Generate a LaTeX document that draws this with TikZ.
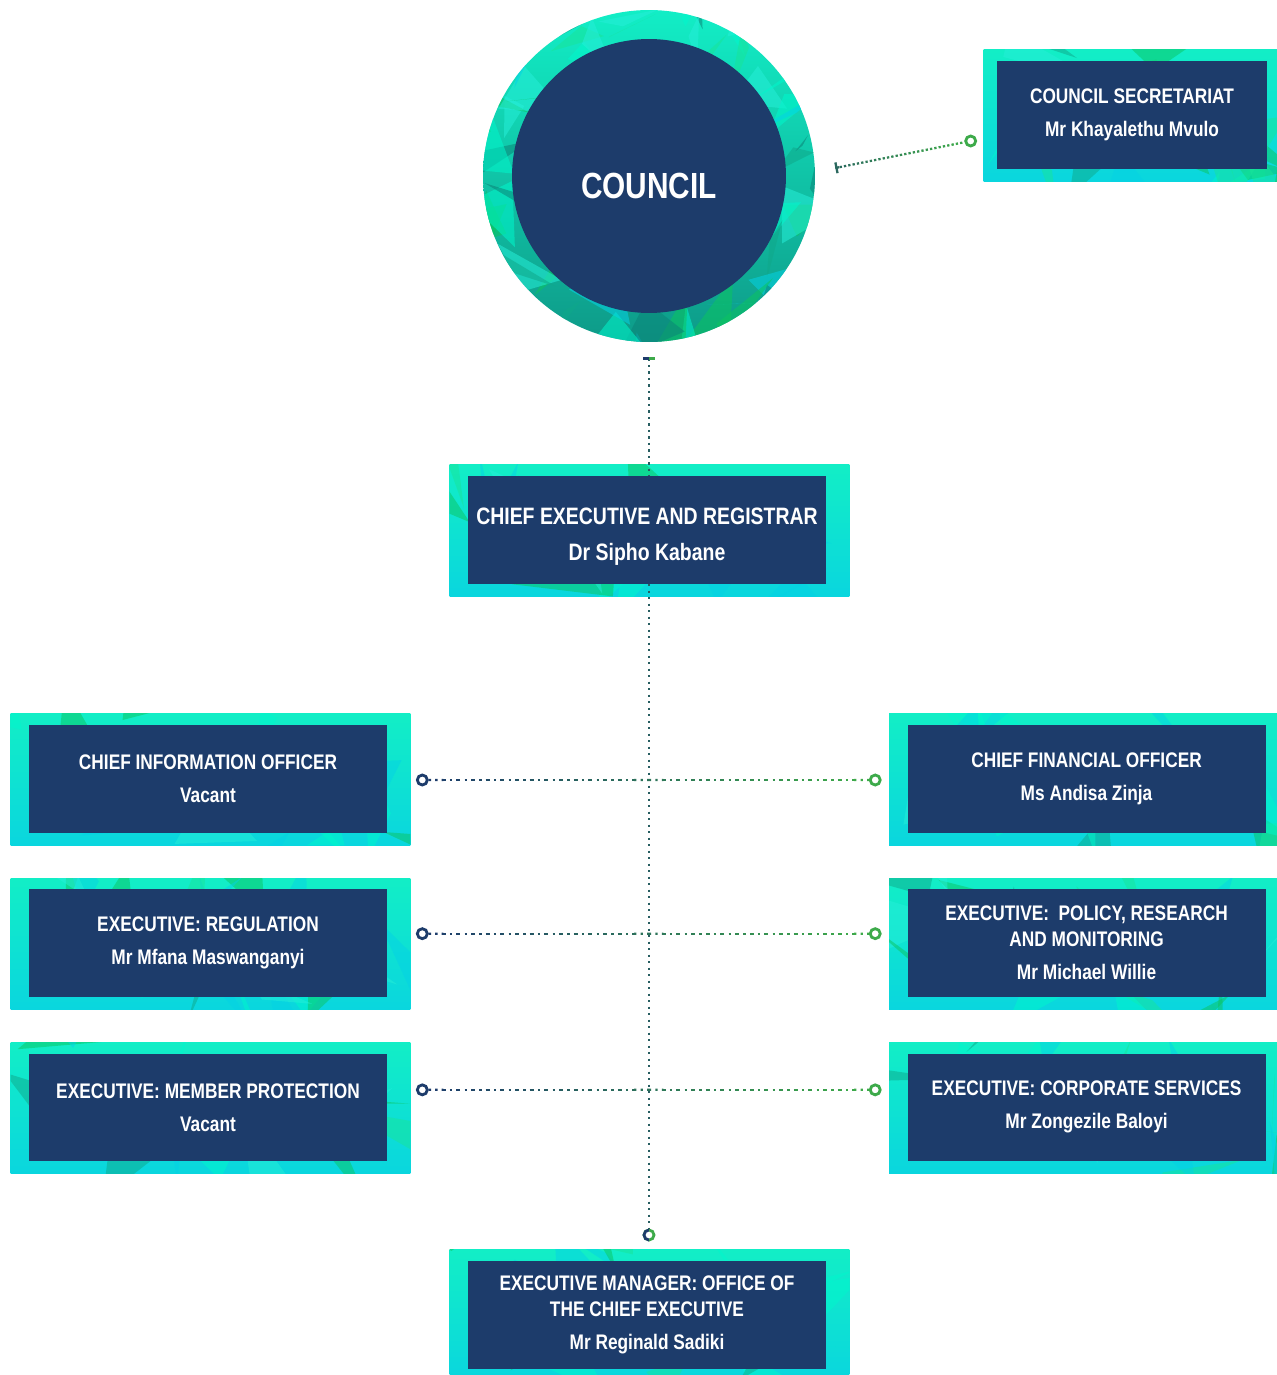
\documentclass[tikz,border=0pt]{standalone}
\usepackage{fontspec}
\setmainfont{Liberation Sans}[FakeStretch=0.82]
\usetikzlibrary{calc,positioning,backgrounds,arrows.meta}

\definecolor{navy}{HTML}{1D3C6B}
\definecolor{leaf}{HTML}{3DAA4A}
\definecolor{mint}{HTML}{12EEC6}
\definecolor{aqua}{HTML}{0AD6DE}
\definecolor{deepteal}{HTML}{0E9A88}
\definecolor{facetA}{HTML}{00F7CC}
\definecolor{facetB}{HTML}{18E49A}
\definecolor{facetC}{HTML}{0CC460}
\definecolor{facetD}{HTML}{0FA88A}
\definecolor{facetE}{HTML}{05D2E4}
\definecolor{facetF}{HTML}{26EED8}
\definecolor{facetG}{HTML}{0B8478}
\pgfmathdeclarerandomlist{facets}{{facetA}{facetB}{facetC}{facetD}{facetE}{facetF}{facetA}{facetE}}
\pgfmathdeclarerandomlist{ringfacets}{{facetA}{facetB}{facetC}{facetD}{facetE}{facetF}{facetG}}

% faceted backdrop round a box: node, left, right, top, bottom margin
\newcommand\polyframe[5]{%
  \begin{scope}
    \coordinate (fa) at ($(#1.north west)+(-#2,-#4)$);
    \coordinate (fb) at ($(#1.south east)+(#3,#5)$);
    \clip (fa) rectangle (fb);
    \shade[top color=mint, bottom color=aqua] (fa) rectangle (fb);
    \foreach \k in {1,...,26}{
      \pgfmathrandomitem{\fc}{facets}
      \pgfmathsetmacro\fu{rnd}
      \pgfmathsetmacro\fv{rand*70}
      \coordinate (fm) at ($(fa)!\fu!(fb)+(0,\fv)$);
      \fill[\fc, opacity=.5] ($(fm)+(rand*55,rand*55)$) -- ($(fm)+(rand*55,rand*55)$)
        -- ($(fm)+(rand*55,rand*55)$) -- cycle;
    }
  \end{scope}}

% dotted link, blue at its start turning green at its end
\newcommand\gradlink[3][100]{%
  \foreach \i in {0,...,29}{
    \pgfmathsetmacro\segA{\i/30}
    \pgfmathsetmacro\segB{(\i+1)/30}
    \pgfmathtruncatemacro\lmix{#1*(1-\i/29)}
    \draw[link, navy!\lmix!leaf] ($(#2)!\segA!(#3)$) -- ($(#2)!\segB!(#3)$);
  }}

\begin{document}
\begin{tikzpicture}[x=0.02cm, y=-0.02cm,
    post/.style={fill=navy, text=white, align=center, inner sep=0pt,
      font=\bfseries\fontsize{12}{14.8}\selectfont,
      minimum width=7.16cm, minimum height=2.15cm},
    hub/.style={circle, fill=navy, text=white, inner sep=0pt, minimum size=5.48cm,
      font=\bfseries\fontsize{20.7}{24}\selectfont, text height=0.92cm, text depth=0pt},
    link/.style={line width=1.3pt, dash pattern=on 1.3pt off 2.4pt},
    endL/.style={circle, draw=navy, fill=white, line width=1.6pt, minimum size=0.2cm, inner sep=0pt},
    endR/.style={endL, draw=leaf}]
  \pgfmathsetseed{12}
  \useasboundingbox (0,0) rectangle (1277,1375);

  \node[hub] (council) at (649,176) {COUNCIL};
  \node[post, minimum width=5.4cm] (sec) at (1132,115) {COUNCIL SECRETARIAT\\[4pt]Mr Khayalethu Mvulo};
  \node[post, font=\bfseries\fontsize{13.5}{16}\selectfont] (ce) at (647,530)
    {\rule{0pt}{16.5pt}CHIEF EXECUTIVE AND REGISTRAR\\[4.5pt]Dr Sipho Kabane};

  \node[post] (cio) at (208,779) {CHIEF INFORMATION OFFICER\\[4pt]Vacant};
  \node[post, below=1.12cm of cio] (reg) {EXECUTIVE: REGULATION\\[4pt]Mr Mfana Maswanganyi};
  \node[post, below=1.12cm of reg] (mem) {EXECUTIVE: MEMBER PROTECTION\\[4pt]Vacant};
  \node[post, right=10.4cm of cio] (cfo) {CHIEF FINANCIAL OFFICER\\[4pt]Ms Andisa Zinja};
  \node[post, below=1.12cm of cfo] (prm) {EXECUTIVE:\ \ POLICY, RESEARCH\\AND MONITORING\\[4pt]Mr Michael Willie};
  \node[post, below=1.12cm of prm] (corp) {EXECUTIVE: CORPORATE SERVICES\\[4pt]Mr Zongezile Baloyi};

  \node[post] (em) at (647,1315) {EXECUTIVE MANAGER: OFFICE OF\\THE CHIEF EXECUTIVE\\[4pt]Mr Reginald Sadiki};

  % link ends
  \node[endL] (cio-o) at ([shift={(35,1)}]cio.east) {};
  \node[endL] (reg-o) at ([shift={(35,-9.5)}]reg.east) {};
  \node[endL] (mem-o) at ([shift={(35,-17.5)}]mem.east) {};
  \node[endR] (cfo-o) at ([shift={(-32,1)}]cfo.west) {};
  \node[endR] (prm-o) at ([shift={(-32,-9.5)}]prm.west) {};
  \node[endR] (corp-o) at ([shift={(-32,-17.5)}]corp.west) {};
  \node[endR] (sec-o) at ([shift={(-26,26)}]sec.west) {};
  \node[endR] (em-o) at (649,1235) {};
  \begin{scope}
    \clip ([xshift=-0.2cm]em-o.north) rectangle (em-o.south);
    \node[endL] at (em-o) {};
  \end{scope}
  \coordinate (cbar) at ([yshift=-0.9cm]council.south);
  \coordinate (sec-t) at ([shift={(49,-8)}]council.east);

  % spine
  \draw[link, navy!70!leaf] (cbar) -- (cbar |- ce.north);
  \draw[link, navy!70!leaf] (cbar |- ce.south) -- (em-o.north);
  \draw[navy, line width=1.7pt] ([xshift=-0.12cm]cbar) -- (cbar);
  \draw[leaf, line width=1.7pt] (cbar) -- ([xshift=0.12cm]cbar);

  \gradlink{cio-o.east}{cfo-o.west}
  \gradlink{reg-o.east}{prm-o.west}
  \gradlink{mem-o.east}{corp-o.west}
  \gradlink[60]{sec-t}{sec-o.191}
  \draw[navy!60!leaf, line width=1.3pt, {Bar[width=0.22cm]}-] (sec-t) -- ($(sec-t)!0.08cm!(sec-o)$);

  \begin{scope}[on background layer]
    \begin{scope}
      \clip (council) circle[radius=3.32cm];
      \shade[top color=mint, middle color=aqua, bottom color=deepteal] (council) circle[radius=3.32cm];
      \foreach \k in {1,...,54}{
        \pgfmathrandomitem{\fc}{ringfacets}
        \pgfmathsetmacro\fa{\k*6.67+rand*4}
        \pgfmathsetmacro\fr{152+rand*12}
        \coordinate (fm) at ($(council)+(\fa:\fr)$);
        \fill[\fc, opacity=.55] ($(fm)+(rand*40,rand*40)$) -- ($(fm)+(rand*40,rand*40)$)
          -- ($(fm)+(rand*40,rand*40)$) -- cycle;
      }
    \end{scope}
    \polyframe{sec}{13}{10}{11}{12}
    \foreach \n in {ce,cio,reg,mem,cfo,prm,corp,em}{\polyframe{\n}{18}{23}{11}{12}}
  \end{scope}
\end{tikzpicture}
\end{document}
